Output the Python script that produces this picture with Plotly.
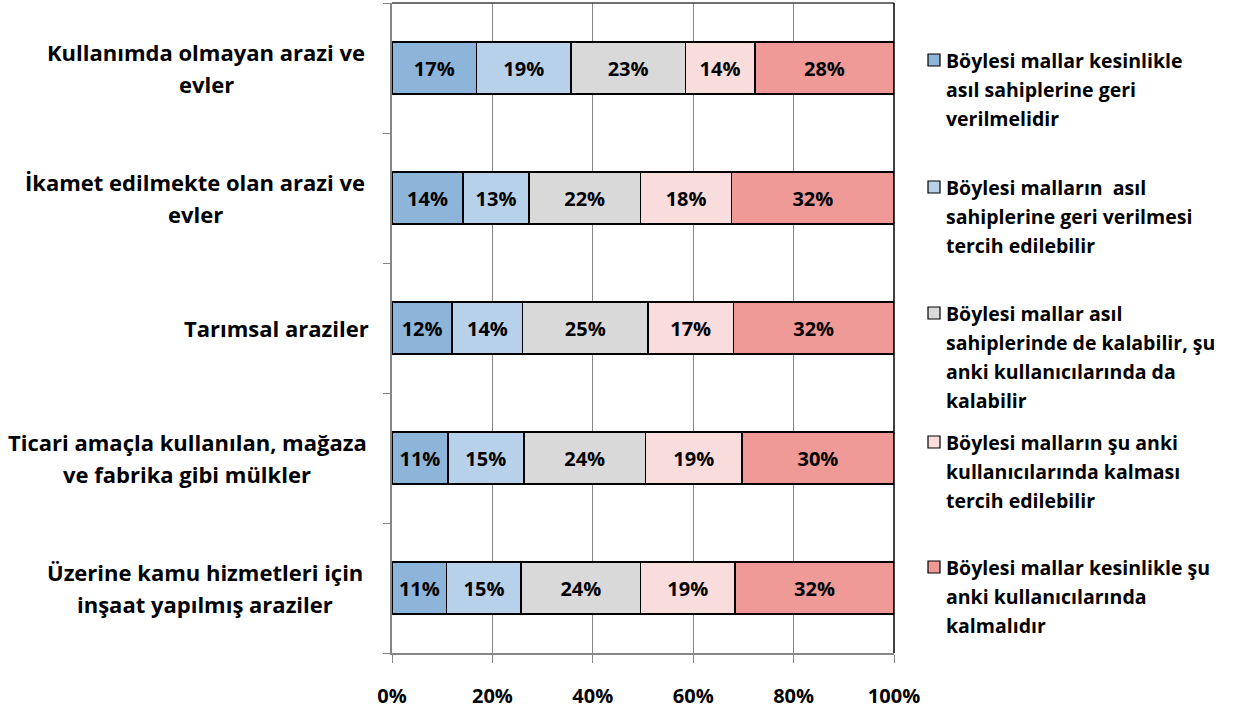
import plotly.graph_objects as go

# Survey categories (top to bottom) and answer series
categories = [
    ["Kullanımda olmayan arazi ve", "evler"],
    ["İkamet edilmekte olan arazi ve", "evler"],
    ["Tarımsal araziler"],
    ["Ticari amaçla kullanılan, mağaza", "ve fabrika gibi mülkler"],
    ["Üzerine kamu hizmetleri için", "inşaat yapılmış araziler"],
]

series_names = [
    ["Böylesi mallar kesinlikle", "asıl sahiplerine geri", "verilmelidir"],
    ["Böylesi malların  asıl", "sahiplerine geri verilmesi", "tercih edilebilir"],
    ["Böylesi mallar asıl", "sahiplerinde de kalabilir, şu", "anki kullanıcılarında da", "kalabilir"],
    ["Böylesi malların şu anki", "kullanıcılarında kalması", "tercih edilebilir"],
    ["Böylesi mallar kesinlikle şu", "anki kullanıcılarında", "kalmalıdır"],
]

kesinlikle_geri = [17, 14, 12, 11, 11]
tercihen_geri = [19, 13, 14, 15, 15]
ikisi_de = [23, 22, 25, 24, 24]
tercihen_kalsin = [14, 18, 17, 19, 19]
kesinlikle_kalsin = [28, 32, 32, 30, 32]

series_values = [kesinlikle_geri, tercihen_geri, ikisi_de, tercihen_kalsin, kesinlikle_kalsin]
series_colors = ["#8DB4D9", "#B7D1EA", "#D9D9D9", "#F9DCDC", "#EF9A97"]

x_tick_vals = [0, 20, 40, 60, 80, 100]
x_tick_text = ["0%", "20%", "40%", "60%", "80%", "100%"]

# Plot-area geometry in pixels
W, H = 1234, 713
L, R, T, B = 392, 894, 3, 653


def px_x(px):
    return (px - L) / (R - L)


def px_y(py):
    return (B - py) / (B - T)


FONT = "Open Sans"
rows = list(range(len(categories)))

fig = go.Figure()
for name, vals, color in zip(series_names, series_values, series_colors):
    fig.add_trace(go.Bar(
        y=rows,
        x=vals,
        orientation="h",
        name=" ".join(name),
        width=0.4,
        marker=dict(color=color, line=dict(color="#000000", width=1.5)),
        text=[f"{v}%" for v in vals],
        textposition="inside",
        insidetextanchor="middle",
        textangle=0,
        constraintext="none",
        textfont=dict(family=FONT, size=20, color="#000000", weight="bold"),
        showlegend=False,
    ))

annotations = []

# Category labels, one line at a time, centred within their block
cat_centers_px = [206, 195, 276, 187, 205]
line_gap = 32
for i, (lines, cx) in enumerate(zip(categories, cat_centers_px)):
    row_center = T + (B - T) / len(categories) * (i + 0.5)
    n = len(lines)
    for j, line in enumerate(lines):
        py = row_center + (j - (n - 1) / 2) * line_gap
        annotations.append(dict(
            x=px_x(cx), y=px_y(py), xref="paper", yref="paper",
            xanchor="center", yanchor="middle", showarrow=False,
            text=line,
            font=dict(family=FONT, size=22, color="#000000", weight="bold"),
        ))

# Legend: coloured square plus wrapped text
legend_tops_px = [60, 187, 313, 442, 567]
legend_gap = 29
shapes = []
for lines, color, top in zip(series_names, series_colors, legend_tops_px):
    shapes.append(dict(
        type="rect", xref="paper", yref="paper",
        x0=px_x(928), x1=px_x(940), y0=px_y(top + 6), y1=px_y(top - 6),
        fillcolor=color, line=dict(color="#000000", width=1.2),
    ))
    for j, line in enumerate(lines):
        annotations.append(dict(
            x=px_x(944), y=px_y(top + j * legend_gap), xref="paper", yref="paper",
            xanchor="left", yanchor="middle", showarrow=False,
            text=line,
            font=dict(family=FONT, size=19.5, color="#000000", weight="bold"),
        ))

# Dark frame on top and right of the plot area
shapes.append(dict(type="line", xref="paper", yref="paper", x0=0, x1=1, y0=1, y1=1,
                   line=dict(color="#404040", width=1.5)))
shapes.append(dict(type="line", xref="paper", yref="paper", x0=1, x1=1, y0=0, y1=1,
                   line=dict(color="#000000", width=1.5)))

fig.update_layout(
    width=W, height=H,
    margin=dict(l=L, r=W - R, t=T, b=H - B, pad=0),
    paper_bgcolor="#FFFFFF", plot_bgcolor="#FFFFFF",
    barmode="stack", barnorm="percent",
    bargap=0.6,
    uniformtext=dict(minsize=20, mode="show"),
    annotations=annotations,
    shapes=shapes,
    showlegend=False,
)

fig.update_xaxes(
    range=[0, 100],
    tickvals=x_tick_vals, ticktext=x_tick_text,
    showgrid=True, gridcolor="#868686", gridwidth=1,
    showline=True, linecolor="#868686", linewidth=1.5,
    ticks="outside", ticklen=8, tickcolor="#868686",
    ticklabelstandoff=16,
    tickfont=dict(family=FONT, size=20, color="#000000", weight="bold"),
    zeroline=False, fixedrange=True,
)

fig.update_yaxes(
    range=[len(categories) - 0.5, -0.5],
    tickvals=rows, ticktext=[""] * len(rows),
    ticks="", showgrid=False, zeroline=False,
    showline=True, linecolor="#868686", linewidth=1.5,
    minor=dict(tickvals=[k - 0.5 for k in range(len(categories) + 1)],
               ticks="outside", ticklen=7, tickcolor="#868686", showgrid=False),
    fixedrange=True,
)

fig.write_html("out.html")
